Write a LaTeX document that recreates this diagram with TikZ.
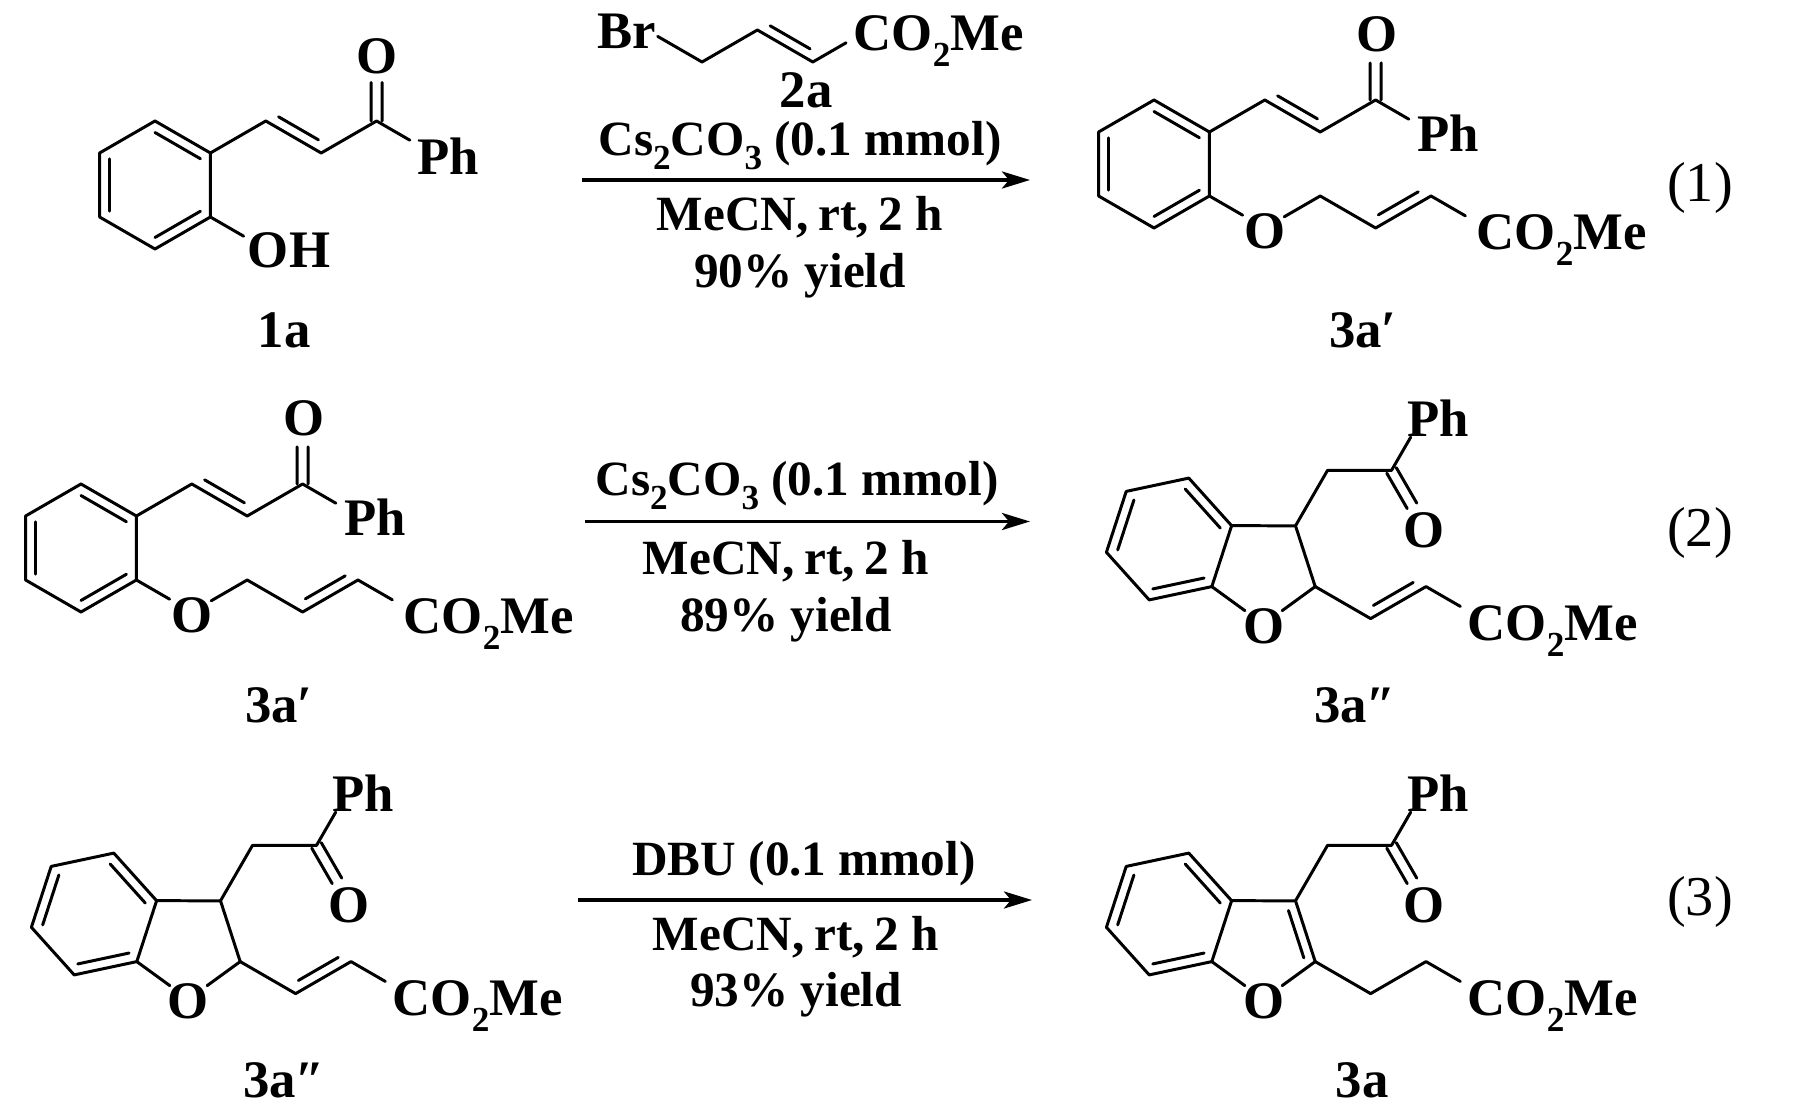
\documentclass[tikz,border=0pt]{standalone}
\usepackage{fontspec}
\setmainfont{Liberation Serif}
\usetikzlibrary{calc,arrows.meta}
\tikzset{
 bond/.style={line width=0.85pt,line cap=round,line join=round},
 lbl/.style={font=\fontsize{15}{18}\selectfont\bfseries,inner sep=0pt,text height=9.8pt,text depth=0pt},
 cond/.style={font=\fontsize{14}{17}\selectfont\bfseries,inner sep=0pt,text height=9.2pt,text depth=0pt},
 eqn/.style={font=\fontsize{16}{19}\selectfont,inner sep=0pt,text height=10.8pt,text depth=0pt},
 rxn/.style={line width=1.1pt,-{Stealth[length=0.28cm,width=0.17cm,inset=0.07cm]}},
}
\newcommand\chsub[1]{\raisebox{-0.3em}{\fontsize{10}{10}\selectfont #1}}
\newcommand\ringdb[4][0.18]{\draw[bond] ($(#2)!#1!(#4)$) -- ($(#3)!#1!(#4)$);}
\newcommand\sidedb[2]{\draw[bond] ($(#1)!0.14!(#2)!0.1cm!90:(#2)$) -- ($(#2)!0.14!(#1)!0.1cm!-90:(#1)$);}
\newcommand\carbonyl[3]{%
 \draw[bond] ($(#1)!0.055cm!90:(#2)$) -- ($(#1)!#3!(#2)!0.055cm!-90:(#1)$);
 \draw[bond] ($(#1)!0.055cm!-90:(#2)$) -- ($(#1)!#3!(#2)!0.055cm!90:(#1)$);}
% 3a' (drawn at its row-1 position)
\newcommand\molA[1]{%
 \coordinate (#1T) at (1154,100);
 \coordinate (#1TR) at (1209.4,132);
 \coordinate (#1BR) at (1209.4,196);
 \coordinate (#1B) at (1154,228);
 \coordinate (#1BL) at (1098.6,196);
 \coordinate (#1TL) at (1098.6,132);
 \coordinate (#1c) at (1154,164);
 \coordinate (#1a1) at (1264.8,100);
 \coordinate (#1a2) at (1320.2,132);
 \coordinate (#1a3) at (1375.6,100);
 \coordinate (#1Ok) at (1375.6,36);
 \coordinate (#1PhA) at (1431,132);
 \coordinate (#1Oe) at (1264.8,228);
 \coordinate (#1b1) at (1320.2,196);
 \coordinate (#1b2) at (1375.6,228);
 \coordinate (#1b3) at (1431,196);
 \coordinate (#1b4) at (1486.4,228);
 \draw[bond] (#1T)--(#1TR)--(#1BR)--(#1B)--(#1BL)--(#1TL)--cycle;
 \ringdb{#1TL}{#1BL}{#1c}\ringdb{#1T}{#1TR}{#1c}\ringdb{#1BR}{#1B}{#1c}
 \draw[bond] (#1TR)--(#1a1)--(#1a2)--(#1a3);
 \sidedb{#1a1}{#1a2}
 \carbonyl{#1a3}{#1Ok}{0.58}
 \draw[bond] (#1a3)--($(#1a3)!0.6!(#1PhA)$);
 \draw[bond] (#1BR)--($(#1BR)!0.6!(#1Oe)$);
 \draw[bond] ($(#1Oe)!0.35!(#1b1)$)--(#1b1)--(#1b2)--(#1b3)--($(#1b3)!0.62!(#1b4)$);
 \sidedb{#1b2}{#1b3}
 \node[lbl] (#1tO) at (1377,34) {O};
 \node[lbl] (#1tPh) at (1448,134) {Ph};
 \node[lbl] (#1tOe) at (1265,231) {O};
 \node[lbl,anchor=west] (#1tE) at (1476,232) {CO\chsub{2}Me};
}
% benzofuran core with side chains (drawn at row-3-left position)
\newcommand\molB[1]{%
 \coordinate (#1A) at (113.8,853.1);
 \coordinate (#1B) at (51.2,866.4);
 \coordinate (#1C) at (31.4,927.3);
 \coordinate (#1D) at (74.2,974.9);
 \coordinate (#1E) at (136.8,961.6);
 \coordinate (#1F) at (156.6,900.7);
 \coordinate (#1hc) at (94,914);
 \coordinate (#1C3) at (220.5,900.8);
 \coordinate (#1C2) at (240.2,961.6);
 \coordinate (#1O) at (188.5,999.2);
 \coordinate (#1pc) at (188.5,944.8);
 \coordinate (#1m) at (252.5,845.4);
 \coordinate (#1k) at (316.5,845.4);
 \coordinate (#1PhA) at (348.5,790);
 \coordinate (#1Ok) at (348.5,900.8);
 \coordinate (#1s1) at (295.6,993.6);
 \coordinate (#1s2) at (351,961.6);
 \coordinate (#1s3) at (406.4,993.6);
 \draw[bond] (#1A)--(#1B)--(#1C)--(#1D)--(#1E)--(#1F)--cycle;
 \ringdb{#1B}{#1C}{#1hc}\ringdb{#1F}{#1A}{#1hc}\ringdb{#1D}{#1E}{#1hc}
 \draw[bond] (#1F)--(#1C3)--(#1C2);
 \draw[bond] (#1E)--($(#1E)!0.64!(#1O)$);
 \draw[bond] (#1C2)--($(#1C2)!0.64!(#1O)$);
 \draw[bond] (#1C3)--(#1m)--(#1k)--($(#1k)!0.6!(#1PhA)$);
 \carbonyl{#1k}{#1Ok}{0.64}
 \draw[bond] (#1C2)--(#1s1)--(#1s2)--($(#1s2)!0.62!(#1s3)$);
 \node[lbl] (#1tO) at (188.5,1001) {O};
 \node[lbl] (#1tPh) at (363,794) {Ph};
 \node[lbl] (#1tOk) at (349,905) {O};
 \node[lbl,anchor=west] (#1tE) at (392,998) {CO\chsub{2}Me};
}
\begin{document}
\begin{tikzpicture}[x=0.01cm,y=-0.01cm]
\useasboundingbox (0,0) rectangle (1819,1110);
% ---------- 1a ----------
\coordinate (aT) at (155,121);
\coordinate (aTR) at (210.4,153);
\coordinate (aBR) at (210.4,217);
\coordinate (aB) at (155,249);
\coordinate (aBL) at (99.6,217);
\coordinate (aTL) at (99.6,153);
\coordinate (ac) at (155,185);
\coordinate (a1) at (265.8,121);
\coordinate (a2) at (321.2,153);
\coordinate (a3) at (376.6,121);
\coordinate (aOk) at (376.6,57);
\coordinate (aPhA) at (432,153);
\coordinate (aOH) at (265.8,249);
\draw[bond] (aT)--(aTR)--(aBR)--(aB)--(aBL)--(aTL)--cycle;
\ringdb{aTL}{aBL}{ac}\ringdb{aT}{aTR}{ac}\ringdb{aBR}{aB}{ac}
\draw[bond] (aTR)--(a1)--(a2)--(a3);
\sidedb{a1}{a2}
\carbonyl{a3}{aOk}{0.6}
\draw[bond] (a3)--($(a3)!0.6!(aPhA)$);
\draw[bond] (aBR)--($(aBR)!0.6!(aOH)$);
\node[lbl] (atO) at (377,56) {O};
\node[lbl] (atPh) at (448,157) {Ph};
\node[lbl] (atOH) at (289,250) {OH};
\node[lbl] (lab1a) at (284,330) {1a};
% ---------- 2a ----------
\coordinate (rBr) at (646.6,30);
\coordinate (r1) at (702,62);
\coordinate (r2) at (757.4,30);
\coordinate (r3) at (812.8,62);
\coordinate (r4) at (868.2,30);
\draw[bond] ($(r1)!0.8!(rBr)$)--(r1)--(r2)--(r3)--($(r3)!0.6!(r4)$);
\sidedb{r2}{r3}
\node[lbl] (rtBr) at (627,31) {Br};
\node[lbl,anchor=west] (rtE) at (853,33) {CO\chsub{2}Me};
\node[lbl] (lab2a) at (806,90) {2a};
% ---------- arrow 1 ----------
\coordinate (s1) at (582,180);
\coordinate (e1) at (1030,180);
\draw[rxn] (s1)--(e1);
\node[cond] (c1a) at (800,139) {Cs\chsub{2}CO\chsub{3} (0.1 mmol)};
\node[cond] (c1b) at (800,214) {MeCN,\hspace{0.2em}rt,\hspace{0.2em}2 h};
\node[cond] (c1c) at (800,271) {90\% yield};
% ---------- 3a' (row 1) ----------
\molA{p}
\node[lbl] (lab3ap) at (1363,330) {3a′};
\node[eqn] (eq1) at (1700,183) {(1)};
% ---------- 3a' (row 2) ----------
\begin{scope}[shift={(-1073,384)}]
\molA{q}
\end{scope}
\node[lbl] (lab3apb) at (279,705) {3a′};
% ---------- arrow 2 ----------
\coordinate (s2) at (585,521.5);
\coordinate (e2) at (1030,521.5);
\draw[rxn] (s2)--(e2);
\node[cond] (c2a) at (797,479) {Cs\chsub{2}CO\chsub{3} (0.1 mmol)};
\node[cond] (c2b) at (786,558) {MeCN,\hspace{0.2em}rt,\hspace{0.2em}2 h};
\node[cond] (c2c) at (786,615) {89\% yield};
% ---------- 3a'' (row 2) ----------
\begin{scope}[shift={(1075,-375)}]
\molB{u}
\sidedb{us1}{us2}
\end{scope}
\node[lbl] (lab3app) at (1355,705) {3a″};
\node[eqn] (eq2) at (1700,528) {(2)};
% ---------- 3a'' (row 3) ----------
\molB{v}
\sidedb{vs1}{vs2}
\node[lbl] (lab3appb) at (284,1080) {3a″};
% ---------- arrow 3 ----------
\coordinate (s3) at (578,900);
\coordinate (e3) at (1032,900);
\draw[rxn] (s3)--(e3);
\node[cond] (c3a) at (804,859) {DBU (0.1 mmol)};
\node[cond] (c3b) at (796,934) {MeCN,\hspace{0.2em}rt,\hspace{0.2em}2 h};
\node[cond] (c3c) at (796,990) {93\% yield};
% ---------- 3a (row 3) ----------
\begin{scope}[shift={(1075,0)}]
\molB{w}
\ringdb[0.22]{wC3}{wC2}{wpc}
\end{scope}
\node[lbl] (lab3a) at (1362,1080) {3a};
\node[eqn] (eq3) at (1700,897) {(3)};
\end{tikzpicture}
\end{document}
